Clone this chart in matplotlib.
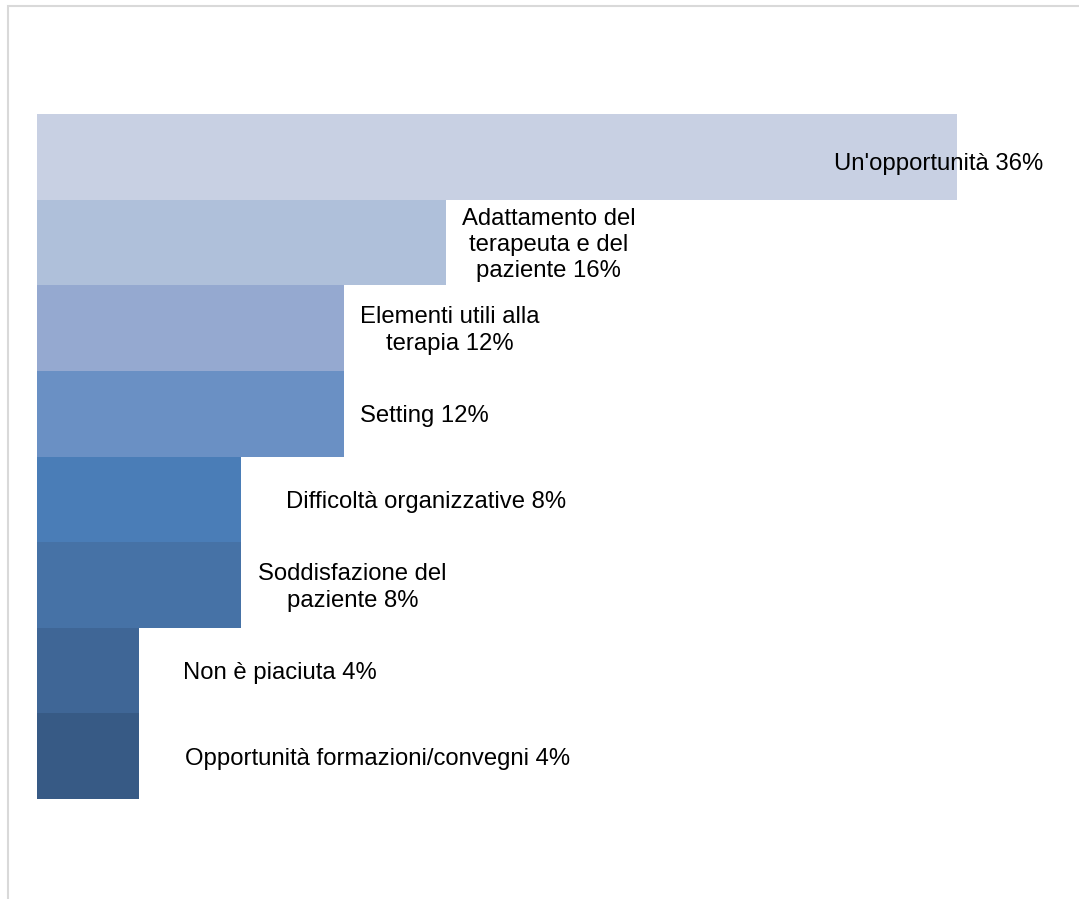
import matplotlib

matplotlib.use("Agg")
import matplotlib.pyplot as plt
from matplotlib.patches import Rectangle

# categorie (dall'alto verso il basso) e percentuali
categories = [
    "Un'opportunità",
    "Adattamento del\nterapeuta e del\npaziente",
    "Elementi utili alla\nterapia",
    "Setting",
    "Difficoltà organizzative",
    "Soddisfazione del\npaziente",
    "Non è piaciuta",
    "Opportunità formazioni/convegni",
]
values = [36, 16, 12, 12, 8, 8, 4, 4]

# scala di blu, dal più chiaro al più scuro
colors = [
    "#C8D0E3", "#AFC0DA", "#95A9D0", "#6A90C4",
    "#4A7DB7", "#4672A6", "#3F6696", "#375A85",
]

# spostamento delle etichette rispetto alla fine della barra (x in punti %, y in barre)
label_dx = [-0.72, 4.03, 4.16, 3.16, 7.22, 4.34, 5.51, 9.32]
label_dy = [0.08, 0.03, 0.03, 0.03, 0.03, 0.03, 0.03, 0.03]

W, H = 1079, 899
fig = plt.figure(figsize=(W / 100, H / 100), dpi=100)
plt.rcParams["font.family"] = ["Liberation Sans", "DejaVu Sans"]

# cornice grigia chiara del grafico
fig.patches.append(
    Rectangle((8 / W, 0 - 0.01), 1.02, (H - 6) / H + 0.01,
              transform=fig.transFigure, fill=False,
              edgecolor="#D9D9D9", linewidth=1.5)
)

ax = fig.add_axes([37 / W, (H - 799) / H, 920 / W, 685 / H])
y = list(range(len(values)))
ax.barh(y, values, height=1.0, color=colors, linewidth=0)
ax.set_xlim(0, 36)
ax.set_ylim(len(values) - 0.5, -0.5)
ax.axis("off")

for yi, cat, v, dx, dy in zip(y, categories, values, label_dx, label_dy):
    ax.text(v + dx, yi + dy, f"{cat} {v}%", ha="center", va="center",
            multialignment="center", fontsize=17.2, color="black",
            linespacing=1.26)

fig.savefig("out.png", dpi=100)
